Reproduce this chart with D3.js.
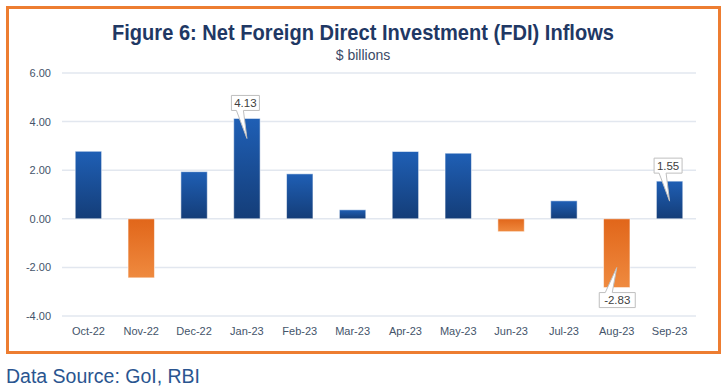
<!DOCTYPE html>
<html>
<head>
<meta charset="utf-8">
<script src="https://cdn.jsdelivr.net/npm/d3@7"></script>
<style>
  html, body { margin: 0; padding: 0; background: #ffffff; }
  svg { display: block; }
</style>
</head>
<body>
<svg id="chart" width="726" height="392"></svg>
<script>
const categories = ["Oct-22","Nov-22","Dec-22","Jan-23","Feb-23","Mar-23","Apr-23","May-23","Jun-23","Jul-23","Aug-23","Sep-23"];
const values = [2.78, -2.43, 1.94, 4.13, 1.85, 0.37, 2.77, 2.70, -0.53, 0.74, -2.83, 1.55];
const yTicks = [-4, -2, 0, 2, 4, 6];
const labelledMonths = ["Jan-23", "Aug-23", "Sep-23"];
const titleText = "Figure 6: Net Foreign Direct Investment (FDI) Inflows";
const subtitleText = "$ billions";
const sourceText = "Data Source: GoI, RBI";

const fmt = d => d.toFixed(2);

const svg = d3.select("#chart");
const defs = svg.append("defs");

const gBlue = defs.append("linearGradient").attr("id", "gBlue")
  .attr("x1", 0).attr("y1", 0).attr("x2", 0).attr("y2", 1);
gBlue.append("stop").attr("offset", "0%").attr("stop-color", "#1f5fb5");
gBlue.append("stop").attr("offset", "100%").attr("stop-color", "#143d78");

const gOrange = defs.append("linearGradient").attr("id", "gOrange")
  .attr("x1", 0).attr("y1", 0).attr("x2", 0).attr("y2", 1);
gOrange.append("stop").attr("offset", "0%").attr("stop-color", "#e1661a");
gOrange.append("stop").attr("offset", "100%").attr("stop-color", "#ef8a3f");

// Frame
svg.append("rect")
  .attr("x", 7.5).attr("y", 7.5).attr("width", 712).attr("height", 345)
  .attr("fill", "#ffffff").attr("stroke", "#ed7d31").attr("stroke-width", 3);

// Title
svg.append("text")
  .attr("x", 363).attr("y", 40)
  .attr("text-anchor", "middle")
  .attr("font-family", "'Liberation Sans Narrow', 'Arial Narrow', 'Liberation Sans', Arial, sans-serif")
  .attr("font-weight", "bold")
  .attr("font-size", 21.5)
  .attr("fill", "#1f3864")
  .attr("textLength", 502)
  .attr("lengthAdjust", "spacingAndGlyphs")
  .text(titleText);

svg.append("text")
  .attr("x", 363).attr("y", 60)
  .attr("text-anchor", "middle")
  .attr("font-family", "'Liberation Sans Narrow', 'Liberation Sans', Arial, sans-serif")
  .attr("font-size", 14)
  .attr("fill", "#3a4a66")
  .text(subtitleText);

const x = d3.scaleBand().domain(categories).range([62, 696]).paddingInner(0.5).paddingOuter(0.25);
const y = d3.scaleLinear().domain([-4, 6]).range([316, 73]);

// Gridlines
svg.append("g").selectAll("line").data(yTicks).join("line")
  .attr("x1", 62).attr("x2", 696)
  .attr("y1", d => y(d)).attr("y2", d => y(d))
  .attr("stroke", "#e2e7ef").attr("stroke-width", 1.5);

// Y axis
const yAxis = d3.axisLeft(y).tickValues(yTicks).tickFormat(fmt).tickSize(0).tickPadding(0);
const gy = svg.append("g").attr("transform", "translate(51,0)").call(yAxis);
gy.select(".domain").remove();
gy.selectAll("text")
  .attr("font-family", "'Liberation Sans', Arial, sans-serif")
  .attr("font-size", 11).attr("fill", "#44546a");

// X axis
const xAxis = d3.axisBottom(x).tickSize(0).tickPadding(0);
const gx = svg.append("g").attr("transform", "translate(0,327)").call(xAxis);
gx.select(".domain").remove();
gx.selectAll("text")
  .attr("font-family", "'Liberation Sans', Arial, sans-serif")
  .attr("font-size", 11).attr("fill", "#44546a");

// Bars
const data = categories.map((c, i) => ({ c, v: values[i] }));
svg.append("g").selectAll("rect").data(data).join("rect")
  .attr("x", d => x(d.c))
  .attr("width", x.bandwidth())
  .attr("y", d => y(Math.max(0, d.v)))
  .attr("height", d => Math.abs(y(d.v) - y(0)))
  .attr("fill", d => d.v >= 0 ? "url(#gBlue)" : "url(#gOrange)")
  .attr("stroke", "rgba(255,255,255,0.55)")
  .attr("stroke-width", 1);

// Callout labels
const lab = data.filter(d => labelledMonths.includes(d.c));
const lg = svg.append("g");
lab.forEach(d => {
  const cx = x(d.c) + x.bandwidth() / 2;
  const yv = y(d.v);
  const txt = fmt(d.v);
  const w = d.v < 0 ? 36 : 28;
  const h = 15;
  let bx, by, tipX, tipY, p1, p2, path;
  if (d.v >= 0) {
    bx = cx - 1.5 - w / 2;
    by = yv - 8 - h;
    tipX = cx; tipY = yv + 20;
    p1 = bx + 5; p2 = bx + 12;
    path = `M${bx},${by} H${bx + w} V${by + h} H${p2} L${tipX},${tipY} L${p1},${by + h} H${bx} Z`;
  } else {
    bx = cx + 0.5 - w / 2;
    by = yv + 5;
    tipX = cx; tipY = yv - 20;
    p1 = bx + 6; p2 = bx + 13;
    path = `M${bx},${by} H${p1} L${tipX},${tipY} L${p2},${by} H${bx + w} V${by + h} H${bx} Z`;
  }
  lg.append("path").attr("d", path)
    .attr("fill", "#ffffff").attr("stroke", "#bfbfbf").attr("stroke-width", 1);
  lg.append("text")
    .attr("x", bx + w / 2).attr("y", by + h / 2 + 4.2)
    .attr("text-anchor", "middle")
    .attr("font-family", "'Liberation Sans', Arial, sans-serif")
    .attr("font-size", 11.5).attr("fill", "#404040")
    .text(txt);
});

// Source
svg.append("text")
  .attr("x", 6).attr("y", 383)
  .attr("font-family", "'Liberation Sans', Arial, sans-serif")
  .attr("font-size", 19.5)
  .attr("fill", "#2a5590")
  .text(sourceText);
</script>
</body>
</html>
